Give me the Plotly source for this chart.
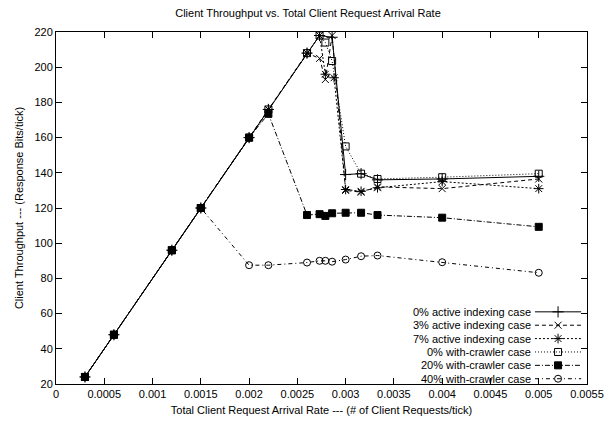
import plotly.graph_objects as go

# ---- data ----
linear_x = [0.0003, 0.0006, 0.0012, 0.0015, 0.002, 0.0022, 0.0026]
linear_y = [24, 48, 96, 120, 160, 176, 208]

act0_x = linear_x + [0.00273, 0.00286, 0.003, 0.00316, 0.00333, 0.004, 0.005]
act0_y = linear_y + [218, 217, 139, 139.5, 136, 136.5, 138]

act3_x = linear_x + [0.00273, 0.00279, 0.00286, 0.003, 0.00316, 0.00333, 0.004, 0.005]
act3_y = linear_y + [205, 193, 218, 130, 129, 132, 131, 136.5]

act7_x = linear_x + [0.00273, 0.00279, 0.00288, 0.003, 0.00316, 0.00333, 0.004, 0.005]
act7_y = linear_y + [218, 196, 194, 130.5, 129.5, 131.5, 135, 131]

crw0_x = linear_x + [0.00273, 0.00279, 0.00286, 0.003, 0.00316, 0.00333, 0.004, 0.005]
crw0_y = linear_y + [218, 214, 203.5, 155, 139.5, 136.5, 137.5, 139.5]

crw20_x = [0.0003, 0.0006, 0.0012, 0.0015, 0.002, 0.0022, 0.0026, 0.00273, 0.00279, 0.00286, 0.003, 0.00316, 0.00333, 0.004, 0.005]
crw20_y = [24, 48, 96, 120, 160, 173.5, 116, 116.5, 115.5, 117, 117.3, 117.3, 116, 114.5, 109.3]

crw40_x = [0.0003, 0.0006, 0.0012, 0.0015, 0.002, 0.0022, 0.0026, 0.00273, 0.00279, 0.00286, 0.003, 0.00316, 0.00333, 0.004, 0.005]
crw40_y = [24, 48, 96, 120, 87.5, 87.5, 89, 90, 90, 89.5, 90.7, 92.6, 93, 89.2, 83.2]

names = ["0% active indexing case", "3% active indexing case", "7% active indexing case",
         "0% with-crawler case", "20% with-crawler case", "40% with-crawler case"]
xs = [act0_x, act3_x, act7_x, crw0_x, crw20_x, crw40_x]
ys = [act0_y, act3_y, act7_y, crw0_y, crw20_y, crw40_y]

x_ticks = [0, 0.0005, 0.001, 0.0015, 0.002, 0.0025, 0.003, 0.0035, 0.004, 0.0045, 0.005, 0.0055]
x_tick_labels = ["0", "0.0005", "0.001", "0.0015", "0.002", "0.0025", "0.003", "0.0035", "0.004", "0.0045", "0.005", "0.0055"]
y_ticks = [20, 40, 60, 80, 100, 120, 140, 160, 180, 200, 220]

# ---- styles ----
dashes = ["solid", "4px,3px", "2px,2px", "1px,2px", "5px,2px,1px,2px", "4px,3px,1px,3px"]
symbols = ["cross-thin-open", "x-thin-open", "asterisk-open", "square-open", "square", "circle-open"]
sizes = [8, 7, 8, 7, 7, 7]

FONT = "Liberation Sans, Arial, sans-serif"
fig = go.Figure()

for i in range(6):
    fig.add_trace(go.Scatter(
        x=xs[i], y=ys[i], mode="lines+markers", name=names[i], showlegend=False,
        line=dict(color="black", width=1, dash=dashes[i]),
        marker=dict(symbol=symbols[i], size=sizes[i], color="black",
                    line=dict(color="black", width=1)),
    ))

# custom gnuplot-style key (text on the left, sample on the right)
row_top = 0.205
row_step = 0.038
for i in range(6):
    yy = row_top - i * row_step
    fig.add_trace(go.Scatter(
        x=[0.902, 0.989], y=[yy, yy], xaxis="x2", yaxis="y2", mode="lines",
        line=dict(color="black", width=1, dash=dashes[i]), showlegend=False, hoverinfo="skip"))
    fig.add_trace(go.Scatter(
        x=[0.9455], y=[yy], xaxis="x2", yaxis="y2", mode="markers",
        marker=dict(symbol=symbols[i], size=sizes[i], color="black",
                    line=dict(color="black", width=1)), showlegend=False, hoverinfo="skip"))
    fig.add_annotation(x=0.898, y=yy, xref="x2", yref="y2", text=names[i], showarrow=False,
                       xanchor="right", yanchor="middle", font=dict(family=FONT, size=11, color="black"))

fig.update_layout(
    width=616, height=427,
    margin=dict(l=56, r=19, t=32, b=38),
    plot_bgcolor="white", paper_bgcolor="white",
    font=dict(family=FONT, size=11, color="black"),
    title=dict(text="Client Throughput vs. Total Client Request Arrival Rate",
               x=0.5, xanchor="center", y=0.97, yanchor="middle",
               font=dict(family=FONT, size=11, color="black")),
    xaxis=dict(range=[0, 0.0055], tickvals=x_ticks, ticktext=x_tick_labels,
               ticks="inside", ticklen=6, tickcolor="black", showgrid=False, zeroline=False,
               showline=True, linecolor="black", linewidth=1, mirror="ticks",
               title=dict(text="Total Client Request Arrival Rate --- (# of Client Requests/tick)",
                          standoff=7, font=dict(size=11))),
    yaxis=dict(range=[20, 220], tickvals=y_ticks,
               ticks="inside", ticklen=6, tickcolor="black", showgrid=False, zeroline=False,
               showline=True, linecolor="black", linewidth=1, mirror="ticks",
               title=dict(text="Client Throughput --- (Response Bits/tick)", standoff=8, font=dict(size=11))),
    xaxis2=dict(range=[0, 1], overlaying="x", visible=False, anchor="y2"),
    yaxis2=dict(range=[0, 1], overlaying="y", visible=False, anchor="x2"),
    showlegend=False,
)

fig.write_html("out.html")
